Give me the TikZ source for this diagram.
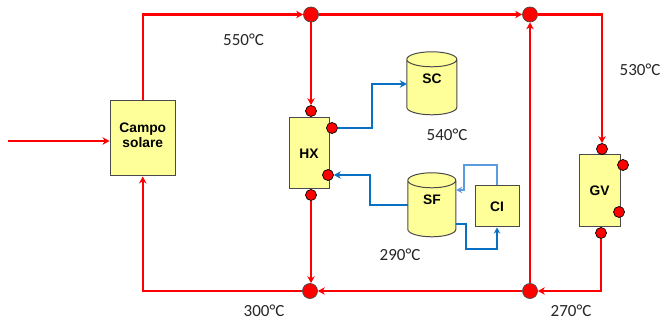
\documentclass[tikz,border=0pt]{standalone}
\usepackage{fontspec}
\setmainfont{Liberation Sans}
\newfontfamily\carl{Carlito}
\usetikzlibrary{arrows.meta,calc}
\definecolor{boxfill}{HTML}{FFFF99}
\definecolor{boxline}{HTML}{4A4A4A}
\definecolor{pipeblue}{HTML}{0A70C4}
\definecolor{ctrlblue}{HTML}{5B9BE0}
\definecolor{pipered}{HTML}{FF0000}
\tikzset{
  unitbox/.style={draw=boxline,fill=boxfill,line width=1pt,inner sep=0pt,align=center,font=\fontsize{13.8}{16}\selectfont\bfseries},
  tankframe/.style={inner sep=0pt,font=\fontsize{13.8}{16}\selectfont\bfseries},
  tankline/.style={draw=boxline,fill=boxfill,line width=1pt},
  bigdot/.style={circle,draw=boxline,fill=pipered,line width=0.7pt,minimum size=15pt,inner sep=0pt},
  smalldot/.style={circle,draw=black,fill=pipered,line width=0.7pt,minimum size=11pt,inner sep=0pt},
  redpipe/.style={draw=pipered,line width=2.3pt,-{Stealth[length=7pt,width=7.5pt]}},
  bluepipe/.style={draw=pipeblue,line width=2.2pt,-{Stealth[length=7pt,width=7.5pt]}},
  thinblue/.style={draw=pipeblue,line width=1.5pt,-{Stealth[length=6pt,width=6.5pt]}},
  ctrlpipe/.style={draw=ctrlblue,line width=1.5pt,-{Stealth[length=6pt,width=6.5pt]}},
  temp/.style={font=\carl\fontsize{17}{18}\selectfont,text=black!85,inner sep=0pt},
}
\newcommand{\tankshape}[1]{%
  \draw[tankline] (#1.north west) ++(0,7.5) arc[start angle=180,end angle=360,x radius=\tankw*0.5pt,y radius=7.5pt]
     arc[start angle=0,end angle=180,x radius=\tankw*0.5pt,y radius=7.5pt]
     -- ++(0,\tankh-15) arc[start angle=180,end angle=360,x radius=\tankw*0.5pt,y radius=7.5pt]
     -- ++(0,15-\tankh);
}
\begin{document}
\begin{tikzpicture}[x=1pt,y=-1pt]
\useasboundingbox (0,0) rectangle (661,320);
% units
\node[unitbox,minimum width=65.5pt,minimum height=75pt] (campo) at (142.75,138.5) {\\[-12pt]Campo\\[-1pt]solare};
\node[unitbox,minimum width=40pt,minimum height=71pt] (hx) at (309,153.5) {HX};
\node[unitbox,minimum width=41pt,minimum height=72pt] (gv) at (599.5,191) {GV};
\node[unitbox,minimum width=44pt,minimum height=41pt] (ci) at (497,206.5) {CI};
% tanks
\node[tankframe,minimum width=50pt,minimum height=63pt] (sc) at (432,83.5) {};
\def\tankw{50}\def\tankh{63}\tankshape{sc}
\node[tankframe] (sclabel) at (432,79) {SC};
\node[tankframe,minimum width=48pt,minimum height=64pt] (sf) at (432,205) {};
\def\tankw{48}\def\tankh{64}\tankshape{sf}
\node[tankframe] (sflabel) at (432,200) {SF};
% junctions
\node[bigdot] (j1) at (311,14.5) {};
\node[bigdot] (j2) at (530,14.5) {};
\node[bigdot] (j3) at (310,291) {};
\node[bigdot] (j4) at (530,291) {};
% ports
\node[smalldot] (hxt) at (311,111) {};
\node[smalldot] (hxo) at (332,128) {};
\node[smalldot] (hxi) at (328,175) {};
\node[smalldot] (hxb) at (311,195) {};
\node[smalldot] (gvt) at (602,149) {};
\node[smalldot] (gvo) at (623,165) {};
\node[smalldot] (gvi) at (619,212) {};
\node[smalldot] (gvb) at (601,233) {};
\coordinate (inlet) at (8,141);
% red connectors
\draw[redpipe] (inlet) -- (inlet -| campo.west);
\draw[redpipe] (campo.north) |- (j1.west);
\draw[redpipe] (j1.east) -- (j2.west);
\draw[redpipe] (j1.south) -- (hxt.north);
\draw[redpipe] (j2.east) -| (gvt.north);
\draw[redpipe] (gvb.south) |- (j4.east);
\draw[redpipe] (j4.north) -- (j2.south);
\draw[redpipe] (j4.west) -- (j3.east);
\draw[redpipe] (j3.west) -| (campo.south);
\draw[redpipe] (hxb.south) -- (hxb.south |- j3.north);
% blue connectors
\draw[bluepipe] (hxo.east) -| (372,84) -- (372,84 -| sc.west);
\draw[bluepipe] (sf.west) -| (370,175) -- (hxi.east);
\draw[thinblue] ($(sf.east)+(0,19)$) -| (466,249) -| (ci.south);
\draw[ctrlpipe] (ci.north) |- (464,165) |- ($(sf.east)+(0,-15)$);
% temperatures
\node[temp] (t550) at (243.5,40) {550°C};
\node[temp] (t530) at (640,70) {530°C};
\node[temp] (t540) at (447,135) {540°C};
\node[temp] (t290) at (400,255) {290°C};
\node[temp] (t300) at (264,311) {300°C};
\node[temp] (t270) at (571,311) {270°C};
\end{tikzpicture}
\end{document}
